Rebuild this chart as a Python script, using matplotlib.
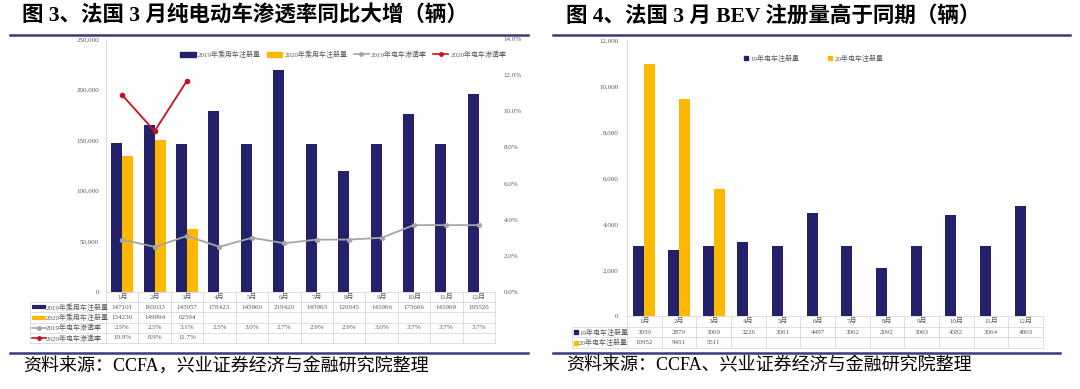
import matplotlib.pyplot as plt
from matplotlib.lines import Line2D
from matplotlib.patches import Patch
from matplotlib.ticker import FuncFormatter, MultipleLocator

plt.rcParams['font.family'] = ['Liberation Serif', 'Noto Sans CJK SC']

months = ['1月', '2月', '3月', '4月', '5月', '6月', '7月', '8月', '9月', '10月', '11月', '12月']

# 图3 数据
car_2019 = [147101, 165033, 145957, 178423, 145960, 219420, 145963, 120045, 145966, 175666, 145969, 195526]
car_2020 = [134230, 149994, 62594]
rate_2019 = [2.9, 2.5, 3.1, 2.5, 3.0, 2.7, 2.9, 2.9, 3.0, 3.7, 3.7, 3.7]
rate_2020 = [10.9, 8.9, 11.7]

# 图4 数据
bev_2019 = [3059, 2879, 3060, 3226, 3061, 4497, 3062, 2092, 3063, 4382, 3064, 4803]
bev_2020 = [10952, 9451, 5511]

NAVY = '#22216A'
GOLD = '#FFB800'
GRAY = '#A5A5A5'
RED = '#C8101E'
RULE = '#3B3B7B'
GRID = '#D9D9D9'
TXT = '#595959'

W, H = 1080, 389
fig = plt.figure(figsize=(W / 100, H / 100), dpi=100)


def box(x0, y0, x1, y1):
    return [x0 / W, 1 - y1 / H, (x1 - x0) / W, (y1 - y0) / H]


def rule(x0, x1, y):
    fig.add_artist(Line2D([x0 / W, x1 / W], [1 - y / H, 1 - y / H], color=RULE, lw=1.8))


def ftext(x, y, s, **kw):
    fig.text(x / W, 1 - y / H, s, va='center', ha='left', **kw)


def draw_table(tab, rows, label_w, colw):
    # rows: (label, kind, color, values, fmt)
    n = len(rows) + 1
    tab.set_xlim(-0.5, 11.5)
    tab.set_ylim(n, 0)
    tab.axis('off')
    xl = -0.5 - label_w
    for r in range(n + 1):
        x_start = -0.5 if r == 0 else xl
        tab.plot([x_start, 11.5], [r, r], color=GRID, lw=0.6, clip_on=False)
    for c in range(13):
        tab.plot([c - 0.5, c - 0.5], [0, n], color=GRID, lw=0.6, clip_on=False)
    tab.plot([xl, xl], [1, n], color=GRID, lw=0.6, clip_on=False)
    for i, m in enumerate(months):
        tab.text(i, 0.5, m, ha='center', va='center', fontsize=5, color=TXT)
    for r, (label, kind, color, vals, fmt) in enumerate(rows, start=1):
        y = r + 0.5
        for i, v in enumerate(vals):
            tab.text(i, y, fmt(v), ha='center', va='center', fontsize=5, color=TXT)
        if kind == 'bar':
            k0, k1 = xl + 2 / colw, xl + 16 / colw
            tab.plot([k0, k1], [y, y], color=color, lw=3, solid_capstyle='butt', clip_on=False)
            tx = k1
        elif kind == 'line':
            k0, k1 = xl + 2 / colw, xl + 16 / colw
            tab.plot([k0, k1], [y, y], color=color, lw=1.2, clip_on=False)
            tab.plot([(k0 + k1) / 2], [y], 'o', color=color, ms=2.5, clip_on=False)
            tx = k1
        else:
            tab.plot([xl + 4 / colw], [y], 's', color=color, ms=2.5, clip_on=False)
            tx = xl + 7 / colw
        tab.text(tx, y, label, ha='left', va='center', fontsize=5, color=TXT, clip_on=False)


x = list(range(12))

# ---------------- 图3 ----------------
ftext(22, 16, '图 3、法国 3 月纯电动车渗透率同比大增（辆）', fontsize=15.5, fontweight='bold', color='black')
rule(10, 528, 35)

ax1 = fig.add_axes(box(106, 39, 495, 292))
ax1.bar([i - 0.17 for i in x], car_2019, width=0.34, color=NAVY, label='2019年乘用车注册量')
ax1.bar([i + 0.17 for i in range(len(car_2020))], car_2020, width=0.34, color=GOLD, label='2020年乘用车注册量')
ax1.set_xlim(-0.5, 11.5)
ax1.set_ylim(0, 250000)
ax1.yaxis.set_major_locator(MultipleLocator(50000))
ax1.yaxis.set_major_formatter(FuncFormatter(lambda v, p: f'{v:,.0f}'))
ax1.set_xticks([])
for s in ['top', 'right', 'bottom']:
    ax1.spines[s].set_visible(False)
ax1.spines['left'].set_color(GRID)
ax1.spines['left'].set_linewidth(0.6)
ax1.tick_params(axis='y', length=0, labelsize=5, labelcolor=TXT, pad=5)

ax1r = ax1.twinx()
ax1r.plot(x, rate_2019, color=GRAY, lw=1.3, marker='o', ms=2.8, label='2019年电车渗透率')
ax1r.plot(range(len(rate_2020)), rate_2020, color=RED, lw=1.3, marker='o', ms=3, label='2020年电车渗透率')
ax1r.set_ylim(0, 14)
ax1r.yaxis.set_major_locator(MultipleLocator(2))
ax1r.yaxis.set_major_formatter(FuncFormatter(lambda v, p: f'{v:.1f}%'))
for s in ax1r.spines.values():
    s.set_visible(False)
ax1r.tick_params(axis='y', length=0, labelsize=5, labelcolor=TXT, pad=6)

h1 = [Patch(color=NAVY), Patch(color=GOLD),
      Line2D([], [], color=GRAY, lw=1.2, marker='o', ms=2.5),
      Line2D([], [], color=RED, lw=1.2, marker='o', ms=2.5)]
ax1.legend(h1, ['2019年乘用车注册量', '2020年乘用车注册量', '2019年电车渗透率', '2020年电车渗透率'],
           ncol=4, loc='center left', bbox_to_anchor=(0.175, 0.94), frameon=False,
           fontsize=5, labelcolor=TXT, handlelength=2.2, handletextpad=0.3, columnspacing=0.9)

tab1 = fig.add_axes(box(106, 292, 495, 343))
draw_table(tab1, [
    ('2019年乘用车注册量', 'bar', NAVY, car_2019, lambda v: f'{v}'),
    ('2020年乘用车注册量', 'bar', GOLD, car_2020, lambda v: f'{v}'),
    ('2019年电车渗透率', 'line', GRAY, rate_2019, lambda v: f'{v:.1f}%'),
    ('2020年电车渗透率', 'line', RED, rate_2020, lambda v: f'{v:.1f}%'),
], label_w=76 / 32.4, colw=32.4)

rule(10, 528, 353)
ftext(23, 366, '资料来源：CCFA，兴业证券经济与金融研究院整理', fontsize=13, color='black')

# ---------------- 图4 ----------------
ftext(566, 16, '图 4、法国 3 月 BEV 注册量高于同期（辆）', fontsize=15.5, fontweight='bold', color='black')
rule(553, 1070, 35)

ax2 = fig.add_axes(box(627, 40, 1043, 316))
ax2.bar([i - 0.16 for i in x], bev_2019, width=0.32, color=NAVY)
ax2.bar([i + 0.16 for i in range(len(bev_2020))], bev_2020, width=0.32, color=GOLD)
ax2.set_xlim(-0.5, 11.5)
ax2.set_ylim(0, 12000)
ax2.yaxis.set_major_locator(MultipleLocator(2000))
ax2.yaxis.set_major_formatter(FuncFormatter(lambda v, p: f'{v:,.0f}'))
ax2.set_xticks([])
for s in ['top', 'right', 'bottom']:
    ax2.spines[s].set_visible(False)
ax2.spines['left'].set_color(GRID)
ax2.spines['left'].set_linewidth(0.6)
ax2.tick_params(axis='y', length=0, labelsize=5, labelcolor=TXT, pad=6)

h2 = [Patch(color=NAVY), Patch(color=GOLD)]
ax2.legend(h2, ['19年电车注册量', '20年电车注册量'], ncol=2, loc='center left',
           bbox_to_anchor=(0.266, 0.935), frameon=False, fontsize=5, labelcolor=TXT,
           handlelength=0.6, handleheight=0.6, handletextpad=0.3, columnspacing=4.2)

tab2 = fig.add_axes(box(627, 316, 1043, 348))
draw_table(tab2, [
    ('19年电车注册量', 'sq', NAVY, bev_2019, lambda v: f'{v}'),
    ('20年电车注册量', 'sq', GOLD, bev_2020, lambda v: f'{v}'),
], label_w=55 / 34.67, colw=34.67)

rule(553, 1060, 353)
ftext(566, 366, '资料来源：CCFA、兴业证券经济与金融研究院整理', fontsize=13, color='black')

fig.savefig('out.png', dpi=100, facecolor='white')
